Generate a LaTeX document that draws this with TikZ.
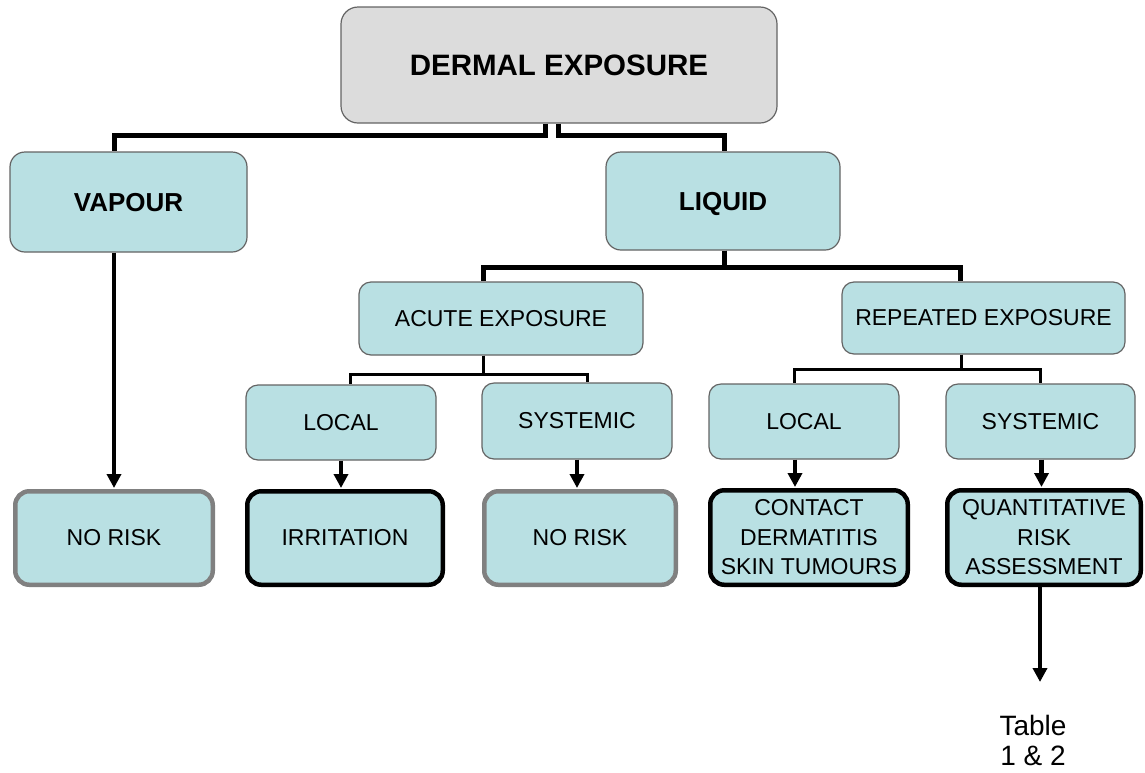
\documentclass[tikz,border=0pt]{standalone}
\usepackage{fontspec}
\setmainfont{Liberation Sans}
\usetikzlibrary{arrows.meta}
\definecolor{boxfill}{RGB}{185,224,227}
\definecolor{topfill}{RGB}{220,220,220}
\definecolor{edgegray}{RGB}{100,100,100}
\definecolor{riskgray}{RGB}{128,128,128}
\begin{document}
\begin{tikzpicture}[x=1pt,y=-1pt,
  base/.style={rectangle, align=center, inner sep=0pt, text=black},
  topbox/.style={base, fill=topfill, draw=edgegray, line width=1.2pt, rounded corners=17pt, font=\bfseries\fontsize{29.5}{34}\selectfont},
  mainbox/.style={base, fill=boxfill, draw=edgegray, line width=1.2pt, rounded corners=15pt, text height=18.6pt, text depth=0pt, font=\bfseries\fontsize{26}{31}\selectfont},
  subbox/.style={base, fill=boxfill, draw=edgegray, line width=1.2pt, rounded corners=12pt, font=\fontsize{23}{28.5}\selectfont},
  endbox/.style={base, fill=boxfill, line width=4.5pt, rounded corners=14pt, font=\fontsize{23}{29.5}\selectfont},
  endblack/.style={endbox, draw=black},
  endgray/.style={endbox, draw=riskgray},
  trunk/.style={line width=5pt, draw=black},
  branch/.style={line width=3pt, draw=black},
  arrowline/.style={line width=4.5pt, draw=black, -{Triangle[width=14pt,length=14pt]}, shorten >=1pt},
  plain/.style={base, font=\fontsize{28}{30}\selectfont}
]
\useasboundingbox (0,0) rectangle (1145,772);
\fill[white] (0,0) rectangle (1145,772);

% nodes
\node[topbox, minimum width=436pt, minimum height=116pt] (top) at (559,65) {DERMAL EXPOSURE};
\node[mainbox, minimum width=237pt, minimum height=100pt] (vap) at (128.5,202) {VAPOUR};
\node[mainbox, minimum width=234pt, minimum height=98pt] (liq) at (723,201) {LIQUID};
\node[subbox, minimum width=284pt, minimum height=73pt] (acute) at (501,318.5) {ACUTE EXPOSURE};
\node[subbox, minimum width=283pt, minimum height=72pt] (rep) at (983.5,318) {REPEATED EXPOSURE};
\node[subbox, minimum width=190pt, minimum height=75pt] (loc1) at (341,422.5) {LOCAL};
\node[subbox, minimum width=190pt, minimum height=76pt] (sys1) at (577,421) {SYSTEMIC};
\node[subbox, minimum width=190pt, minimum height=75pt] (loc2) at (804,421.5) {LOCAL};
\node[subbox, minimum width=189pt, minimum height=75pt] (sys2) at (1040.5,421.5) {SYSTEMIC};

\node[endgray, minimum width=197.5pt, minimum height=93.5pt] (nr1) at (114,538) {NO RISK};
\node[endblack, minimum width=195.5pt, minimum height=93.5pt] (irr) at (345,538) {IRRITATION};
\node[endgray, minimum width=191.5pt, minimum height=93.5pt] (nr2) at (580,538) {NO RISK};
\node[endblack, minimum width=197.5pt, minimum height=94.5pt] (con) at (809,537.5) {CONTACT\\DERMATITIS\\SKIN TUMOURS};
\node[endblack, minimum width=193.5pt, minimum height=94.5pt] (qra) at (1044,537.5) {QUANTITATIVE\\RISK\\ASSESSMENT};
\node[plain] (tab) at (1033,740) {Table\\1 \& 2};
\coordinate (tabtip) at (1040,682);

% connectors
\draw[trunk] ([xshift=-14pt]top.south) -- ++(0,12) -| ([xshift=-14.5pt]vap.north);
\draw[trunk] ([xshift=-1pt]top.south) -- ++(0,12) -| ([xshift=1pt]liq.north);
\draw[trunk] ([xshift=1pt]liq.south) -- ++(0,17) -| ([xshift=-18pt]acute.north);
\draw[trunk] ([xshift=1pt]liq.south) -- ++(0,17) -| ([xshift=-23.5pt]rep.north);
\draw[branch] ([xshift=-18pt]acute.south) -- ++(0,19) -| ([xshift=9pt]loc1.north);
\draw[branch] ([xshift=-18pt]acute.south) -- ++(0,19) -| ([xshift=10pt]sys1.north);
\draw[branch] ([xshift=-22.5pt]rep.south) -- ++(0,15) -| ([xshift=-10pt]loc2.north);
\draw[branch] ([xshift=-22.5pt]rep.south) -- ++(0,15) -| ([xshift=-0.5pt]sys2.north);

\draw[arrowline] ([xshift=-14.5pt]vap.south) -- (nr1.north);
\draw[arrowline] (loc1.south) -- (loc1.south |- irr.north);
\draw[arrowline] (sys1.south) -- (sys1.south |- nr2.north);
\draw[arrowline] ([xshift=-9pt]loc2.south) -- ([xshift=-9pt]loc2.south |- con.north);
\draw[arrowline] ([xshift=1pt]sys2.south) -- ([xshift=1pt]sys2.south |- qra.north);
\draw[arrowline, shorten >=0pt] (qra.south -| tabtip) -- (tabtip);
\end{tikzpicture}
\end{document}
